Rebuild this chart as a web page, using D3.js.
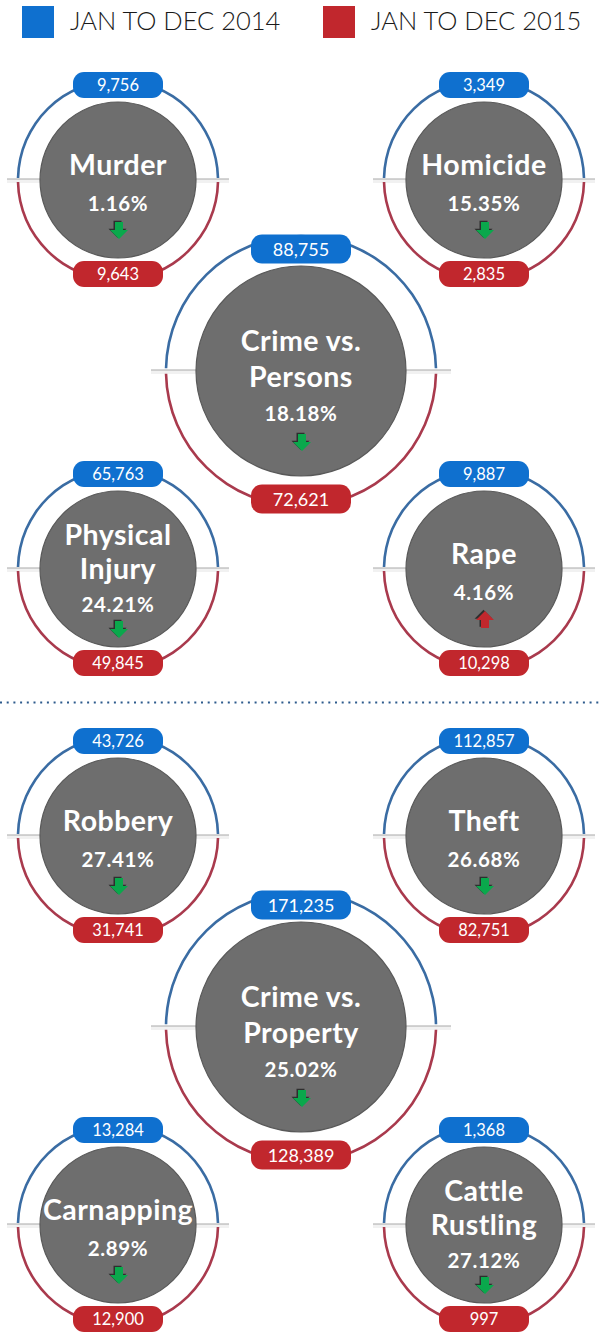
<!DOCTYPE html>
<html>
<head>
<meta charset="utf-8">
<script src="https://cdn.jsdelivr.net/npm/d3@7"></script>
<style>
  html, body { margin: 0; padding: 0; background: #fff; }
  svg { display: block; }
</style>
</head>
<body>
<svg id="chart" width="599" height="1333"></svg>
<script>
// ---------------- DATA ----------------
const seriesNames = ["JAN TO DEC 2014", "JAN TO DEC 2015"];
const categories = [
  "Murder", "Homicide", "Crime vs.\nPersons", "Physical\nInjury", "Rape",
  "Robbery", "Theft", "Crime vs.\nProperty", "Carnapping", "Cattle\nRustling"
];
const groupOf = [
  "Persons", "Persons", "Persons", "Persons", "Persons",
  "Property", "Property", "Property", "Property", "Property"
];
const slotOf = ["tl", "tr", "c", "bl", "br", "tl", "tr", "c", "bl", "br"];
const values2014 = [9756, 3349, 88755, 65763, 9887, 43726, 112857, 171235, 13284, 1368];
const values2015 = [9643, 2835, 72621, 49845, 10298, 31741, 82751, 128389, 12900, 997];
const pctChange  = [1.16, 15.35, 18.18, 24.21, 4.16, 27.41, 26.68, 25.02, 2.89, 27.12];

// ---------------- STYLE ----------------
const C = {
  blue: "#0f70cf", red: "#c1272d",
  ringBlue: "#3a6ca3", ringRed: "#a93a4d",
  gray: "#6e6e6e", grayEdge: "#595959",
  green: "#0aa84c", shadow: "#2e2e2e", dots: "#2d5a8c", text: "#1a1a1a"
};
const FONT = "Lato, 'Open Sans', sans-serif";

const svg = d3.select("#chart");
const fmt = d3.format(",");
const pfmt = d => d3.format(".2f")(d) + "%";

// ---------------- LEGEND ----------------
const legendX = d3.scaleOrdinal().domain(seriesNames).range([22, 323]);
const legendC = d3.scaleOrdinal().domain(seriesNames).range([C.blue, C.red]);
const lg = svg.append("g").selectAll("g").data(seriesNames).join("g")
  .attr("transform", d => `translate(${legendX(d)},6)`);
lg.append("rect").attr("width", 32).attr("height", 32).attr("fill", d => legendC(d));
lg.append("text").attr("x", 48).attr("y", 23.5)
  .attr("font-family", FONT).attr("font-weight", 300).attr("font-size", 25.5)
  .attr("fill", C.text).text(d => d);

// ---------------- LAYOUT ----------------
const groupY = d3.scaleOrdinal().domain(["Persons", "Property"]).range([0, 656]);
const slotX = { tl: 118, tr: 484, c: 301, bl: 118, br: 484 };
const slotY = { tl: 180, tr: 180, c: 371, bl: 569, br: 569 };

const nodes = categories.map((cat, i) => ({
  cat, lines: cat.split("\n"), group: groupOf[i], slot: slotOf[i],
  v14: values2014[i], v15: values2015[i], pct: pctChange[i],
  up: values2015[i] > values2014[i],
  big: slotOf[i] === "c",
  cx: slotX[slotOf[i]], cy: slotY[slotOf[i]] + groupY(groupOf[i])
}));

// dotted separator between the two groups
svg.append("line").attr("x1", 0).attr("x2", 599).attr("y1", 702.5).attr("y2", 702.5)
  .attr("stroke", C.dots).attr("stroke-width", 2).attr("stroke-dasharray", "2,4.7");

// draw center circles last so they sit on top
const order = nodes.slice().sort((a, b) => (a.big ? 1 : 0) - (b.big ? 1 : 0));

const g = svg.append("g").selectAll("g.node").data(order).join("g")
  .attr("class", "node")
  .attr("transform", d => `translate(${d.cx},${d.cy})`);

const ringR = d => d.big ? 135 : 100;
const innerR = d => d.big ? 105 : 78;

// connector bars
g.each(function (d) {
  const sel = d3.select(this);
  const r0 = innerR(d), r1 = ringR(d) + (d.big ? 15 : 11);
  [-1, 1].forEach(s => {
    const x0 = s < 0 ? -r1 : r0, w = r1 - r0;
    sel.append("rect").attr("x", x0).attr("y", -1).attr("width", w).attr("height", 4)
      .attr("fill", "#f1f1f1");
    sel.append("line").attr("x1", x0).attr("x2", x0 + w).attr("y1", -1).attr("y2", -1)
      .attr("stroke", "#a9a9a9").attr("stroke-width", 1.2);
  });
});

// ring halves
const arc = d3.arc();
g.append("path").attr("fill", C.ringBlue)
  .attr("d", d => arc({ innerRadius: ringR(d) - 1.3, outerRadius: ringR(d) + 1.3,
    startAngle: -Math.PI / 2 + 0.02, endAngle: Math.PI / 2 - 0.02 }));
g.append("path").attr("fill", C.ringRed)
  .attr("d", d => arc({ innerRadius: ringR(d) - 1.3, outerRadius: ringR(d) + 1.3,
    startAngle: Math.PI / 2 + 0.02, endAngle: 3 * Math.PI / 2 - 0.02 }));

// gray disc
g.append("circle").attr("r", innerR).attr("fill", C.gray)
  .attr("stroke", C.grayEdge).attr("stroke-width", 1.2);

// pills
function pill(sel, key, color, offFn) {
  const pg = sel.append("g").attr("transform", d => `translate(0,${offFn(d)})`);
  pg.append("rect")
    .attr("x", d => d.big ? -50 : -45).attr("y", d => d.big ? -14.5 : -13)
    .attr("width", d => d.big ? 100 : 90).attr("height", d => d.big ? 29 : 26)
    .attr("rx", 11).attr("fill", color);
  pg.append("text").attr("text-anchor", "middle").attr("y", d => d.big ? 7 : 6)
    .attr("font-family", FONT).attr("font-weight", 400)
    .attr("font-size", d => d.big ? 18 : 16.5).attr("fill", "#fff")
    .text(d => fmt(d[key]));
}
pill(g, "v14", C.blue, d => d.big ? -122 : -95);
pill(g, "v15", C.red, d => d.big ? 128 : 94);

// text offsets by type
const lay = d => d.big ? { t: [-20, 16], p: 50, a: 63 }
  : d.lines.length > 1 ? { t: [-24, 10], p: 43, a: 52 }
  : { t: [-5], p: 31, a: 42 };

g.each(function (d) {
  const sel = d3.select(this), L = lay(d);
  d.lines.forEach((ln, k) => {
    sel.append("text").attr("text-anchor", "middle").attr("y", L.t[k])
      .attr("font-family", FONT).attr("font-weight", 700)
      .attr("font-size", 28.5).attr("letter-spacing", 0.5)
      .attr("fill", "#fff").text(ln);
  });
  sel.append("text").attr("text-anchor", "middle").attr("y", L.p)
    .attr("font-family", FONT).attr("font-weight", 700)
    .attr("font-size", 20.5).attr("letter-spacing", 0.6)
    .attr("fill", "#fff").text(pfmt(d.pct));

  // arrow
  const down = "M-4,0 L4,0 L4,8 L9,8 L0,17 L-9,8 L-4,8 Z";
  const up = "M-4,17 L4,17 L4,9 L9,9 L0,0 L-9,9 L-4,9 Z";
  const ag = sel.append("g").attr("transform", `translate(1,${L.a})`);
  ag.append("path").attr("d", d.up ? up : down).attr("fill", C.shadow)
    .attr("transform", "translate(-1.5,-1.2)");
  ag.append("path").attr("d", d.up ? up : down).attr("fill", d.up ? C.red : C.green);
});
</script>
</body>
</html>
